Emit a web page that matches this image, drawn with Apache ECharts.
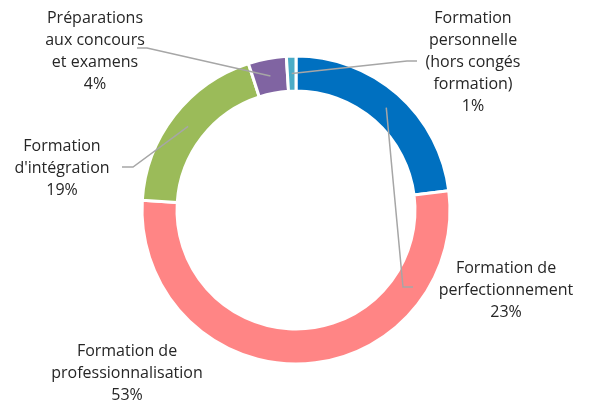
<!DOCTYPE html>
<html>
<head>
<meta charset="utf-8">
<script src="https://cdn.jsdelivr.net/npm/echarts@6/dist/echarts.min.js"></script>
<style>
  html, body { margin: 0; padding: 0; background: #fff; }
  #chart { width: 590px; height: 410px; }
</style>
</head>
<body>
<div id="chart"></div>
<script>
// categories and shares (%), clockwise from 12 o'clock
var categories = [
  'Formation de\nperfectionnement',
  'Formation de\nprofessionnalisation',
  "Formation\nd'intégration",
  'Préparations\naux concours\net examens',
  'Formation\npersonnelle\n(hors congés\nformation)'
];
var values = [23, 53, 19, 4, 1];
var colors = ['#0070C0', '#FF8585', '#9BBB59', '#8064A2', '#4BACC6'];

// where each label sits (center of text block) and the elbow of its leader line
var labelPos = [[506, 290], [127, 373], [62, 168], [95, 51], [473, 62]];
var elbows = [[[403, 287], [413, 287]], null, [[133, 167], [122, 167]], [[147, 48], [137, 48]], [[407, 61], [417, 61]]];

var cx = 296, cy = 210, rIn = 119, rOut = 154;

var total = values.reduce(function (a, b) { return a + b; }, 0);
function anchor(i) {
  var before = 0;
  for (var k = 0; k < i; k++) before += values[k];
  var a = (before + values[i] / 2) / total * Math.PI * 2;
  var r = (rIn + rOut) / 2;
  return [cx + r * Math.sin(a), cy - r * Math.cos(a)];
}

var pieData = categories.map(function (c, i) {
  return { name: c, value: values[i] };
});

var chart = echarts.init(document.getElementById('chart'));

var option = {
  animation: false,
  color: colors,
  textStyle: { fontFamily: '"Open Sans", sans-serif' },
  series: [{
    // the ring itself
    type: 'pie',
    z: 1,
    center: [cx, cy],
    radius: [rIn, rOut],
    startAngle: 90,
    clockwise: true,
    silent: true,
    itemStyle: { borderColor: '#fff', borderWidth: 3 },
    label: { show: false },
    labelLine: { show: false },
    data: pieData
  }, {
    // same slices, invisible, only carrying labels + leader lines on top
    type: 'pie',
    z: 5,
    center: [cx, cy],
    radius: [rIn, rOut],
    startAngle: 90,
    clockwise: true,
    silent: true,
    percentPrecision: 0,
    avoidLabelOverlap: false,
    itemStyle: { color: 'rgba(0,0,0,0)', borderWidth: 0 },
    label: {
      show: true,
      formatter: '{b}\n{d}%',
      color: '#262626',
      fontSize: 16,
      lineHeight: 22,
      align: 'center'
    },
    labelLine: {
      show: true,
      lineStyle: { color: '#A6A6A6', width: 1.5 }
    },
    labelLayout: function (p) {
      var i = p.dataIndex;
      var a = anchor(i);
      return {
        x: labelPos[i][0],
        y: labelPos[i][1],
        align: 'center',
        verticalAlign: 'middle',
        labelLinePoints: elbows[i] ? [a, elbows[i][0], elbows[i][1]] : [a, a, a]
      };
    },
    data: pieData
  }]
};

chart.setOption(option);
</script>
</body>
</html>
